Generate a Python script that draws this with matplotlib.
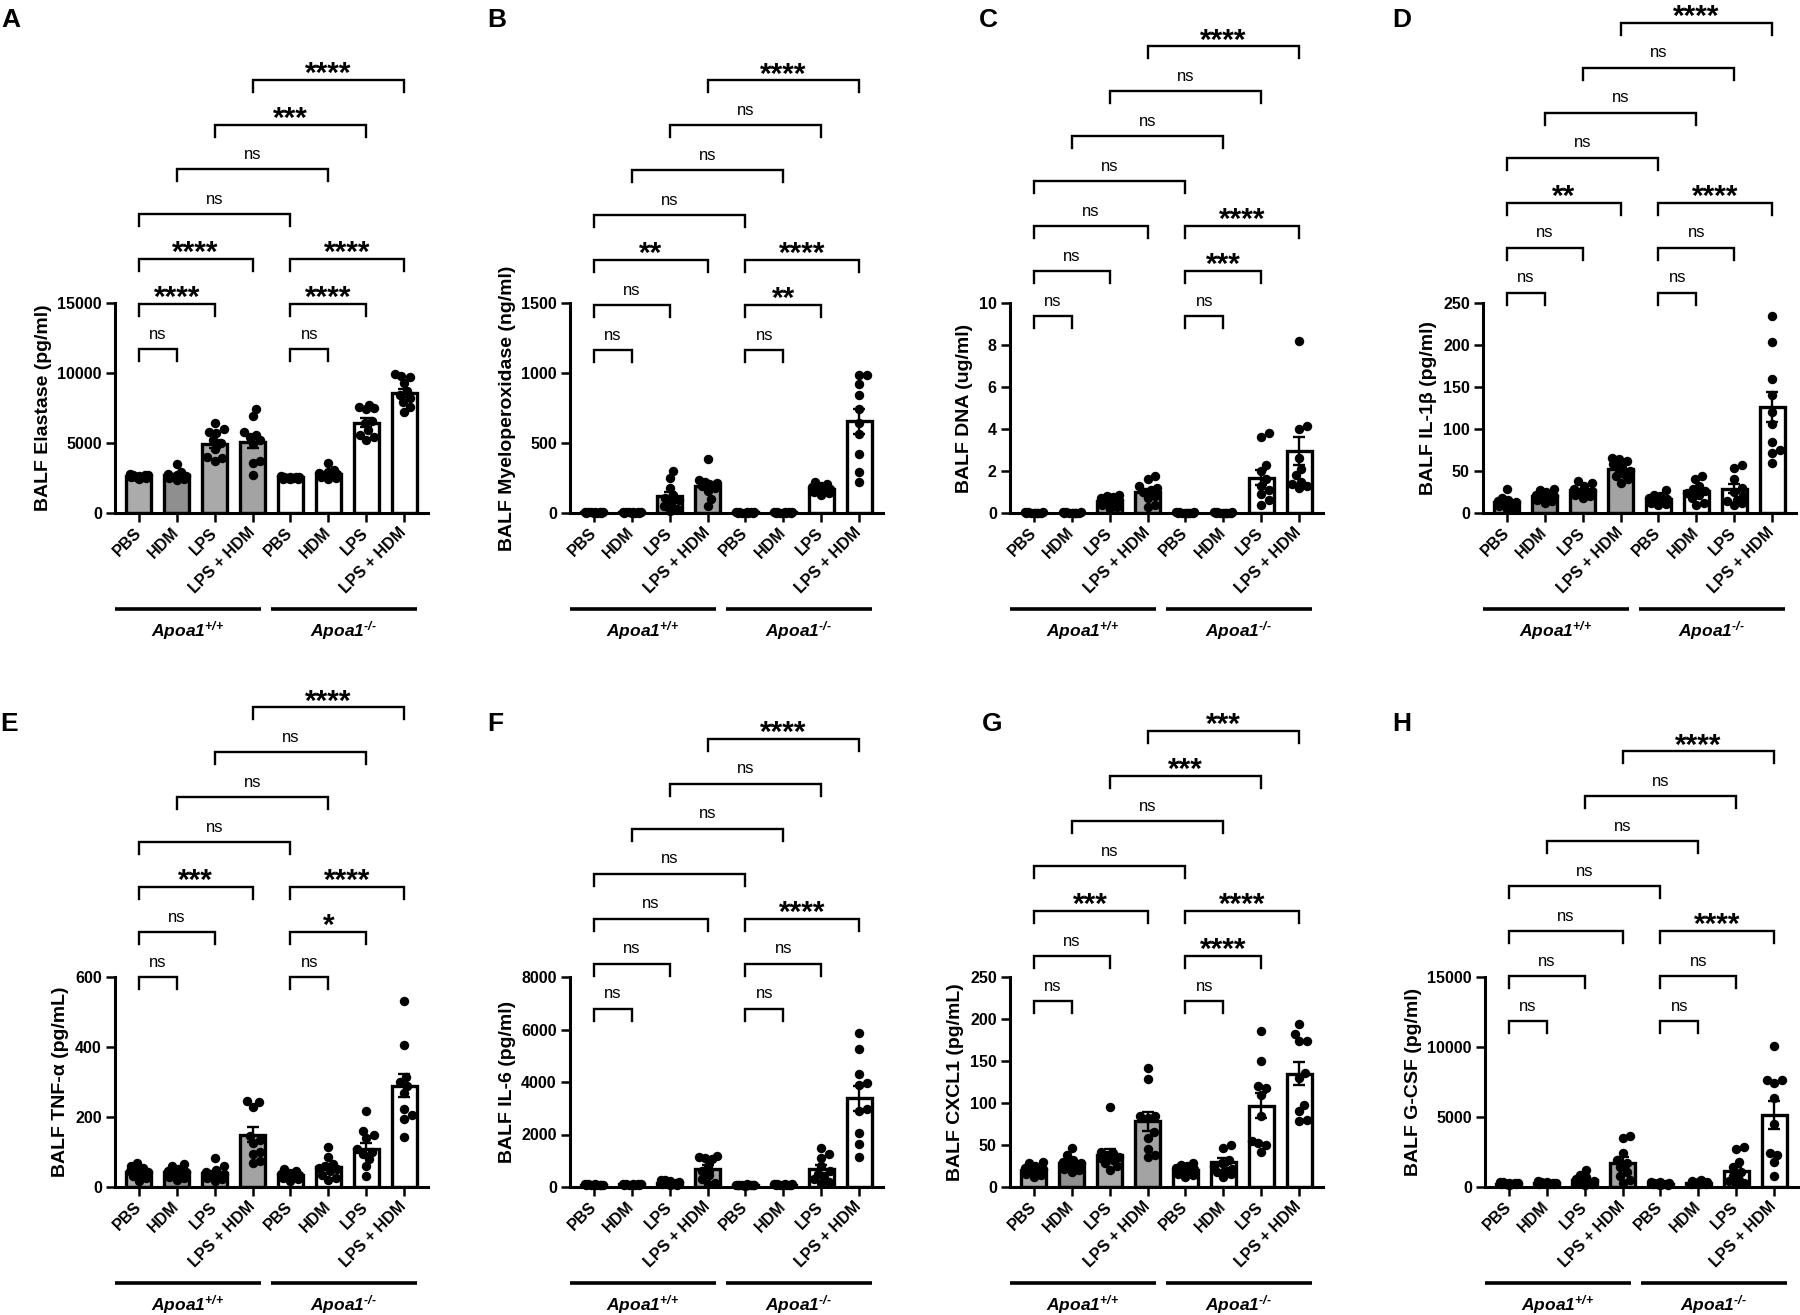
import numpy as np
import matplotlib
matplotlib.use("Agg")
import matplotlib.pyplot as plt
from matplotlib.transforms import blended_transform_factory

plt.rcParams["font.family"] = ["Liberation Sans", "DejaVu Sans"]
plt.rcParams["mathtext.fontset"] = "custom"
plt.rcParams["mathtext.rm"] = "Liberation Sans:italic:bold"
plt.rcParams["mathtext.it"] = "Liberation Sans:italic:bold"
plt.rcParams["mathtext.bf"] = "Liberation Sans:bold"

groups = ["PBS", "HDM", "LPS", "LPS + HDM", "PBS", "HDM", "LPS", "LPS + HDM"]
genotypes = [r"$\mathit{Apoa1}^{\text{+/+}}$", r"$\mathit{Apoa1}^{\text{-/-}}$"]

# pairs compared and the row (level) each bracket sits on
pairs = [(0, 1), (0, 2), (0, 3), (4, 5), (4, 6), (4, 7), (0, 4), (1, 5), (2, 6), (3, 7)]
levels = [0, 1, 2, 0, 1, 2, 3, 4, 5, 6]

# ---- A: elastase
elastase_pts = [
    [2800, 2750, 2700, 2700, 2650, 2600, 2600, 2550, 2500, 2450],
    [3500, 2950, 2800, 2700, 2650, 2600, 2550, 2500, 2400, 2350],
    [6400, 6000, 5800, 5700, 5200, 5000, 4600, 4000, 3900, 3700],
    [7400, 6900, 5800, 5600, 5400, 5200, 4900, 3700, 3600, 2700],
    [2650, 2600, 2600, 2550, 2550, 2500, 2500, 2450, 2450, 2400],
    [3600, 3100, 2950, 2850, 2800, 2700, 2650, 2600, 2500, 2400],
    [7700, 7600, 7500, 7400, 6600, 6400, 5900, 5600, 5400, 5200],
    [9900, 9800, 9700, 9300, 8700, 8400, 8200, 7900, 7600, 7200],
]
elastase_mean = [2630, 2680, 4950, 5100, 2540, 2800, 6450, 8600]
elastase_sem = [40, 110, 300, 460, 25, 110, 310, 290]
elastase_sig = ["ns", "****", "****", "ns", "****", "****", "ns", "ns", "***", "****"]

# ---- B: myeloperoxidase
mpo_pts = [
    [8, 6, 5, 5, 4, 4, 3, 3, 2, 2],
    [7, 6, 5, 5, 4, 4, 3, 3, 2, 2],
    [300, 250, 180, 130, 110, 90, 70, 50, 30, 15],
    [385, 235, 225, 215, 205, 195, 180, 160, 100, 50],
    [6, 5, 5, 4, 4, 3, 3, 2, 2, 1],
    [6, 5, 5, 4, 4, 3, 3, 2, 2, 1],
    [225, 205, 195, 185, 175, 165, 160, 150, 140, 130],
    [985, 985, 922, 845, 744, 640, 565, 425, 293, 222],
]
mpo_mean = [4, 4, 122, 195, 4, 4, 172, 655]
mpo_sem = [1, 1, 30, 27, 1, 1, 9, 90]
mpo_sig = ["ns", "ns", "**", "ns", "**", "****", "ns", "ns", "ns", "****"]

# ---- C: DNA
dna_pts = [
    [0.04, 0.03, 0.03, 0.02, 0.02, 0.02, 0.01, 0.01, 0.01, 0.0],
    [0.04, 0.03, 0.03, 0.02, 0.02, 0.02, 0.01, 0.01, 0.01, 0.0],
    [0.85, 0.8, 0.75, 0.7, 0.6, 0.55, 0.45, 0.4, 0.3, 0.2],
    [1.75, 1.6, 1.3, 1.2, 1.1, 1.0, 0.8, 0.7, 0.4, 0.3],
    [0.04, 0.03, 0.03, 0.02, 0.02, 0.02, 0.01, 0.01, 0.01, 0.0],
    [0.04, 0.03, 0.03, 0.02, 0.02, 0.02, 0.01, 0.01, 0.01, 0.0],
    [3.8, 3.6, 2.3, 2.0, 1.6, 1.3, 1.1, 0.9, 0.6, 0.4],
    [8.2, 4.15, 4.0, 2.6, 2.1, 1.8, 1.5, 1.4, 1.3, 1.2],
]
dna_mean = [0.02, 0.02, 0.56, 0.98, 0.02, 0.02, 1.68, 2.95]
dna_sem = [0.004, 0.004, 0.07, 0.15, 0.004, 0.004, 0.37, 0.68]
dna_sig = ["ns", "ns", "ns", "ns", "***", "****", "ns", "ns", "ns", "****"]

# ---- D: IL-1b
il1b_pts = [
    [28, 18, 15, 14, 13, 12, 10, 8, 6, 5],
    [28, 27, 25, 22, 20, 19, 18, 16, 14, 12],
    [38, 36, 32, 28, 26, 25, 24, 22, 20, 18],
    [66, 64, 62, 58, 55, 50, 46, 44, 40, 36],
    [27, 22, 20, 18, 17, 16, 14, 12, 11, 10],
    [44, 40, 32, 28, 26, 24, 22, 18, 12, 10],
    [57, 53, 40, 30, 25, 20, 16, 14, 12, 10],
    [234, 204, 160, 141, 120, 106, 85, 75, 72, 60],
]
il1b_mean = [13, 20, 27, 52, 17, 26, 29, 126]
il1b_sem = [2.2, 1.7, 2.1, 3.2, 1.7, 3.6, 5.6, 18]
il1b_sig = ["ns", "ns", "**", "ns", "ns", "****", "ns", "ns", "ns", "****"]

# ---- E: TNF-a
tnf_pts = [
    [70, 60, 55, 50, 45, 42, 38, 32, 25, 18],
    [65, 60, 52, 47, 43, 40, 35, 30, 25, 20],
    [83, 60, 48, 42, 38, 34, 30, 26, 22, 16],
    [245, 243, 230, 145, 135, 125, 100, 95, 75, 70],
    [52, 45, 40, 36, 33, 30, 28, 25, 22, 18],
    [114, 85, 65, 60, 55, 52, 45, 35, 25, 20],
    [218, 160, 150, 140, 110, 100, 95, 80, 60, 32],
    [532, 405, 314, 300, 290, 270, 224, 205, 195, 143],
]
tnf_mean = [44, 42, 40, 150, 33, 58, 110, 290]
tnf_sem = [5, 4.5, 6, 21, 3.4, 9, 17, 33]
tnf_sig = ["ns", "ns", "***", "ns", "*", "****", "ns", "ns", "ns", "****"]

# ---- F: IL-6
il6_pts = [
    [120, 110, 100, 95, 90, 85, 80, 75, 70, 60],
    [130, 120, 110, 105, 100, 95, 90, 85, 80, 70],
    [280, 250, 210, 180, 160, 140, 120, 100, 90, 80],
    [1180, 1150, 1100, 1050, 800, 600, 450, 300, 150, 100],
    [100, 95, 90, 85, 80, 75, 70, 65, 60, 55],
    [130, 120, 110, 100, 95, 90, 85, 80, 75, 70],
    [1480, 1250, 1100, 800, 600, 500, 400, 300, 200, 150],
    [5850, 5240, 4290, 3950, 3900, 2990, 2900, 2050, 1650, 1150],
]
il6_mean = [88, 98, 160, 690, 78, 95, 680, 3380]
il6_sem = [6, 6, 20, 130, 5, 6, 140, 470]
il6_sig = ["ns", "ns", "ns", "ns", "ns", "****", "ns", "ns", "ns", "****"]

# ---- G: CXCL1
cxcl1_pts = [
    [30, 28, 25, 23, 21, 20, 18, 16, 14, 12],
    [46, 38, 32, 30, 28, 26, 24, 22, 20, 18],
    [95, 42, 40, 38, 36, 34, 32, 28, 25, 20],
    [142, 128, 85, 84, 82, 65, 58, 45, 38, 36],
    [28, 26, 25, 23, 21, 20, 18, 16, 14, 12],
    [50, 46, 32, 28, 25, 22, 20, 18, 15, 12],
    [186, 150, 120, 118, 110, 84, 55, 52, 50, 42],
    [194, 182, 174, 174, 136, 130, 98, 90, 80, 79],
]
cxcl1_mean = [20, 28, 38, 78, 20, 30, 97, 135]
cxcl1_sem = [1.8, 2.6, 7, 11, 1.7, 4, 15, 14]
cxcl1_sig = ["ns", "ns", "***", "ns", "****", "****", "ns", "ns", "***", "***"]

# ---- H: G-CSF
gcsf_pts = [
    [380, 340, 300, 280, 260, 240, 220, 200, 180, 150],
    [400, 370, 340, 310, 290, 270, 250, 230, 210, 190],
    [1250, 850, 700, 550, 450, 380, 320, 260, 200, 150],
    [3650, 3500, 2450, 1900, 1700, 1400, 1100, 800, 500, 300],
    [370, 330, 300, 270, 250, 230, 210, 190, 170, 150],
    [480, 430, 390, 350, 310, 280, 250, 220, 200, 180],
    [2850, 2700, 1800, 1400, 1100, 800, 500, 400, 300, 200],
    [10070, 7650, 7650, 7395, 6375, 4510, 2420, 2300, 1785, 765],
]
gcsf_mean = [250, 290, 500, 1750, 250, 310, 1150, 5150]
gcsf_sem = [25, 22, 110, 380, 25, 30, 300, 1000]
gcsf_sig = ["ns", "ns", "ns", "ns", "ns", "****", "ns", "ns", "ns", "****"]

panels = [
    ("A", "BALF Elastase (pg/ml)", [0, 5000, 10000, 15000], elastase_pts, elastase_mean, elastase_sem, elastase_sig),
    ("B", "BALF Myeloperoxidase (ng/ml)", [0, 500, 1000, 1500], mpo_pts, mpo_mean, mpo_sem, mpo_sig),
    ("C", "BALF DNA (ug/ml)", [0, 2, 4, 6, 8, 10], dna_pts, dna_mean, dna_sem, dna_sig),
    ("D", "BALF IL-1β (pg/ml)", [0, 50, 100, 150, 200, 250], il1b_pts, il1b_mean, il1b_sem, il1b_sig),
    ("E", "BALF TNF-α (pg/mL)", [0, 200, 400, 600], tnf_pts, tnf_mean, tnf_sem, tnf_sig),
    ("F", "BALF IL-6 (pg/ml)", [0, 2000, 4000, 6000, 8000], il6_pts, il6_mean, il6_sem, il6_sig),
    ("G", "BALF CXCL1 (pg/mL)", [0, 50, 100, 150, 200, 250], cxcl1_pts, cxcl1_mean, cxcl1_sem, cxcl1_sig),
    ("H", "BALF G-CSF (pg/ml)", [0, 5000, 10000, 15000], gcsf_pts, gcsf_mean, gcsf_sem, gcsf_sig),
]

# layout (pixels in the 1800x1315 canvas)
W, H = 1800, 1315
ax_left_px = [115, 570, 1010, 1483, 115, 570, 1010, 1485]
ax_bottom_px = [513] * 4 + [1187] * 4
ax_w_px, ax_h_px = 313, 210
label_xy_px = [(11, 20), (497, 20), (988, 20), (1402, 20),
               (9, 724), (495, 724), (992, 724), (1402, 724)]
bracket_base = [0.78, 0.776, 0.938, 1.05, 1.0, 0.85, 0.886, 0.79]
bracket_step = 0.214
wt_fills = ["#ababab", "#8f8f8f", "#a9a9a9", "#a3a3a3"]
XMIN, XMAX = -0.63, 7.63
unit_px = ax_w_px / (XMAX - XMIN)


def swarm(vals, ymax, min_sep=7.5, step=1.5, max_px=9.5):
    vals = np.asarray(vals, dtype=float)
    ys = vals / ymax * ax_h_px
    cands = [0.0]
    k = 1
    while k * step <= max_px:
        cands += [k * step, -k * step]
        k += 1
    placed = []
    offs = np.zeros(len(vals))
    for i in np.argsort(vals):
        best, best_d = 0.0, -1.0
        for c in cands:
            d = min([np.hypot(c - px, ys[i] - py) for px, py in placed], default=1e9)
            if d >= min_sep:
                best = c
                break
            if d > best_d:
                best, best_d = c, d
        placed.append((best, ys[i]))
        offs[i] = best / unit_px
    return offs


fig = plt.figure(figsize=(W / 100, H / 100), dpi=100)
x = np.arange(8)

for p, (letter, ylabel, yticks, pts, means, sems, sig) in enumerate(panels):
    ax = fig.add_axes([ax_left_px[p] / W, 1 - ax_bottom_px[p] / H, ax_w_px / W, ax_h_px / H])
    ymax = yticks[-1]
    fills = wt_fills + ["white"] * 4
    ax.bar(x, means, width=0.66, color=fills, edgecolor="black", linewidth=2.4, zorder=2)
    for i in range(8):
        offs = swarm(pts[i], ymax)
        ax.plot(x[i] + offs, pts[i], "o", color="black", ms=6.8, mew=0, zorder=3, clip_on=False)
    ax.errorbar(x, means, yerr=sems, fmt="none", ecolor="black", elinewidth=1.7,
                capsize=4.5, capthick=1.7, zorder=4)

    ax.set_xlim(XMIN, XMAX)
    ax.set_ylim(0, ymax)
    ax.set_yticks(yticks)
    ax.set_yticklabels([str(t) for t in yticks], fontweight="bold", fontsize=11.5)
    ax.set_xticks(x)
    ax.set_xticklabels(groups, rotation=45, ha="right", va="center", rotation_mode="anchor",
                       fontweight="bold", fontsize=11.5)
    ax.tick_params(axis="both", length=6.5, width=1.8, pad=3)
    ax.tick_params(axis="x", pad=6)
    for s in ["top", "right"]:
        ax.spines[s].set_visible(False)
    for s in ["left", "bottom"]:
        ax.spines[s].set_linewidth(2.2)
    ax.set_ylabel(ylabel, fontweight="bold", fontsize=14, labelpad=4)

    tr = blended_transform_factory(ax.transData, ax.transAxes)
    leg = 12 / ax_h_px
    for (a, b), lv, s in zip(pairs, levels, sig):
        yb = bracket_base[p] + lv * bracket_step
        ax.plot([a, a, b, b], [yb - leg, yb, yb, yb - leg], color="black", lw=1.7,
                transform=tr, clip_on=False, solid_joinstyle="miter")
        if s == "ns":
            ax.annotate(s, xy=((a + b) / 2, yb), xycoords=tr, xytext=(0, 7.5),
                        textcoords="offset points", ha="center", va="baseline", fontsize=12)
        else:
            ax.annotate(s, xy=((a + b) / 2, yb), xycoords=tr, xytext=(0, -1.5),
                        textcoords="offset points", ha="center", va="baseline",
                        fontsize=21.5, fontweight="bold")

    # genotype lines under the tick labels
    yl = -96 / ax_h_px
    for (x0, x1), g in zip([(XMIN, 3.22), (3.48, 7.33)], genotypes):
        ax.plot([x0, x1], [yl, yl], color="black", lw=2.6, transform=tr, clip_on=False,
                solid_capstyle="butt")
        ax.text((x0 + x1) / 2, -118 / ax_h_px, g, transform=tr, ha="center", va="center",
                fontsize=12.5)

    lx, ly = label_xy_px[p]
    fig.text(lx / W, 1 - ly / H, letter, ha="center", va="center", fontsize=19, fontweight="bold")

fig.savefig("out.png", dpi=100)
